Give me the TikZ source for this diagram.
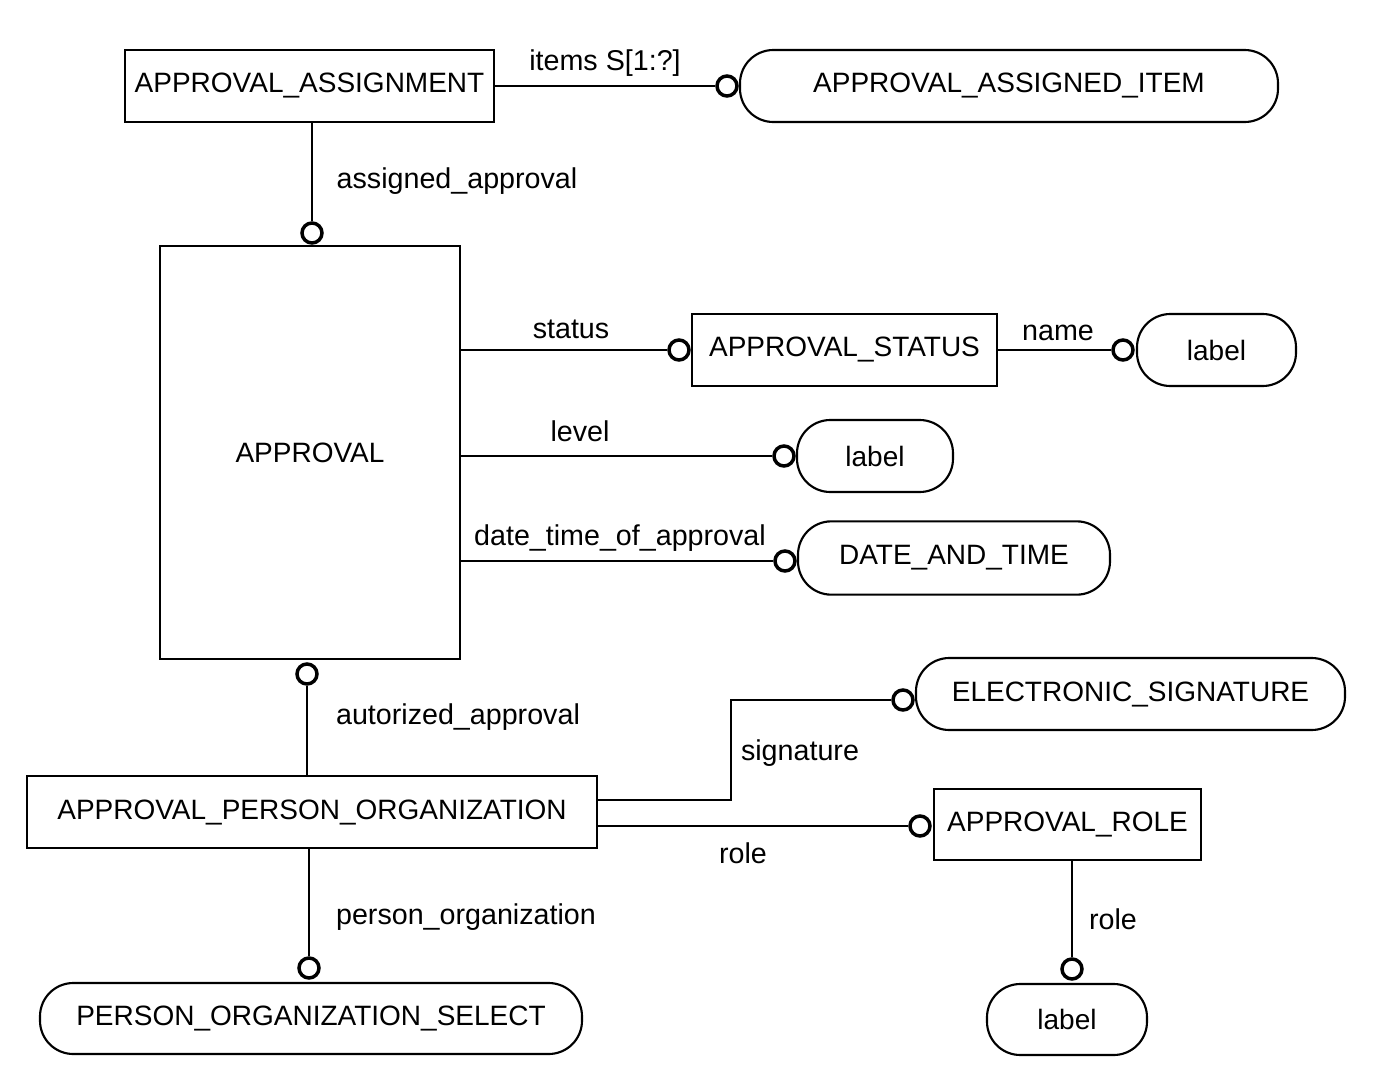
\documentclass[tikz,border=0pt]{standalone}
\usepackage{fontspec}
\setmainfont{Liberation Sans}
\usetikzlibrary{positioning}

\tikzset{every picture/.style={line width=1.6pt}}
\tikzset{
  entity/.style={draw, rectangle, inner sep=0pt, font=\fontsize{21}{25}\selectfont},
  defined/.style={draw, rectangle, rounded corners=25pt, inner sep=0pt, font=\fontsize{21}{25}\selectfont},
  ring/.style={draw, circle, line width=2.6pt, minimum size=15pt, inner sep=0pt, fill=white},
  rolename/.style={font=\fontsize{21.5}{25}\selectfont, inner sep=0pt}
}

\begin{document}
\begin{tikzpicture}[x=0.75pt,y=0.75pt,yscale=-1,xscale=1]
\useasboundingbox (0,0) rectangle (1379,1082);

% Text Node
\node[entity, minimum width=276.75pt, minimum height=54pt] (asg) at (309.5,86) {APPROVAL\_ASSIGNMENT};
% Text Node
\node[defined, minimum width=403.5pt, minimum height=54pt] (item) at (1009,86) {APPROVAL\_ASSIGNED\_ITEM};
% Text Node
\node[entity, minimum width=225pt, minimum height=309.75pt] (appr) at (310,452.5) {APPROVAL};
% Text Node
\node[entity, minimum width=228.75pt, minimum height=54pt] (stat) at (844.5,350) {APPROVAL\_STATUS};
% Text Node
\node[defined, minimum width=119.25pt, minimum height=54pt] (lbla) at (1216.5,350) {label};
% Text Node
\node[defined, minimum width=117pt, minimum height=54pt] (lblb) at (875,456) {label};
% Text Node
\node[defined, minimum width=234pt, minimum height=55pt] (date) at (954,558) {DATE\_AND\_TIME};
% Text Node
\node[entity, minimum width=427.5pt, minimum height=54pt] (apo) at (312,812) {APPROVAL\_PERSON\_ORGANIZATION};
% Text Node
\node[defined, minimum width=321.75pt, minimum height=54pt] (esig) at (1130.5,694) {ELECTRONIC\_SIGNATURE};
% Text Node
\node[entity, minimum width=200.25pt, minimum height=53.25pt] (role) at (1067.5,824.5) {APPROVAL\_ROLE};
% Text Node
\node[defined, minimum width=120pt, minimum height=53.25pt] (lblc) at (1067,1019.5) {label};
% Text Node
\node[defined, minimum width=406.5pt, minimum height=53.25pt] (pos) at (311,1018.5) {PERSON\_ORGANIZATION\_SELECT};

% Rings
\node[ring] (ra) at (727,86) {};
\node[ring] (rb) at (312,233) {};
\node[ring] (rc) at (679,350) {};
\node[ring] (rd) at (1123,350) {};
\node[ring] (re) at (784,456) {};
\node[ring] (rf) at (785,561) {};
\node[ring] (rg) at (307,674) {};
\node[ring] (rh) at (903,700) {};
\node[ring] (ri) at (920,826) {};
\node[ring] (rj) at (1072,969) {};
\node[ring] (rk) at (309,968) {};

% Connection
\draw (asg) -- (ra);
\draw (rb |- asg.south) -- (rb);
\draw (appr.east |- rc) -- (rc);
\draw (stat) -- (rd);
\draw (appr.east |- re) -- (re);
\draw (appr.east |- rf) -- (rf);
\draw (rg) -- (rg |- apo.north);
\coordinate (sigout) at ([yshift=-9pt]apo.east);
\coordinate (sigbend) at (731,700);
\draw (sigout) -| (sigbend) -- (rh);
\draw (ri -| apo.east) -- (ri);
\draw (rj |- role.south) -- (rj);
\draw (rk |- apo.south) -- (rk);

% Role names
\node[rolename] (na) at (605,63) {items S[1:?]};
\node[rolename] (nb) at (457,181) {assigned\_approval};
\node[rolename] (nc) at (571,329) {status};
\node[rolename] (nd) at (1058,333) {name};
\node[rolename] (ne) at (580,431) {level};
\node[rolename] (nf) at (620,538) {date\_time\_of\_approval};
\node[rolename] (ng) at (458,717) {autorized\_approval};
\node[rolename] (nh) at (800,753) {signature};
\node[rolename] (ni) at (743,853) {role};
\node[rolename] (nj) at (1113,919) {role};
\node[rolename] (nk) at (466,917) {person\_organization};

\end{tikzpicture}
\end{document}
